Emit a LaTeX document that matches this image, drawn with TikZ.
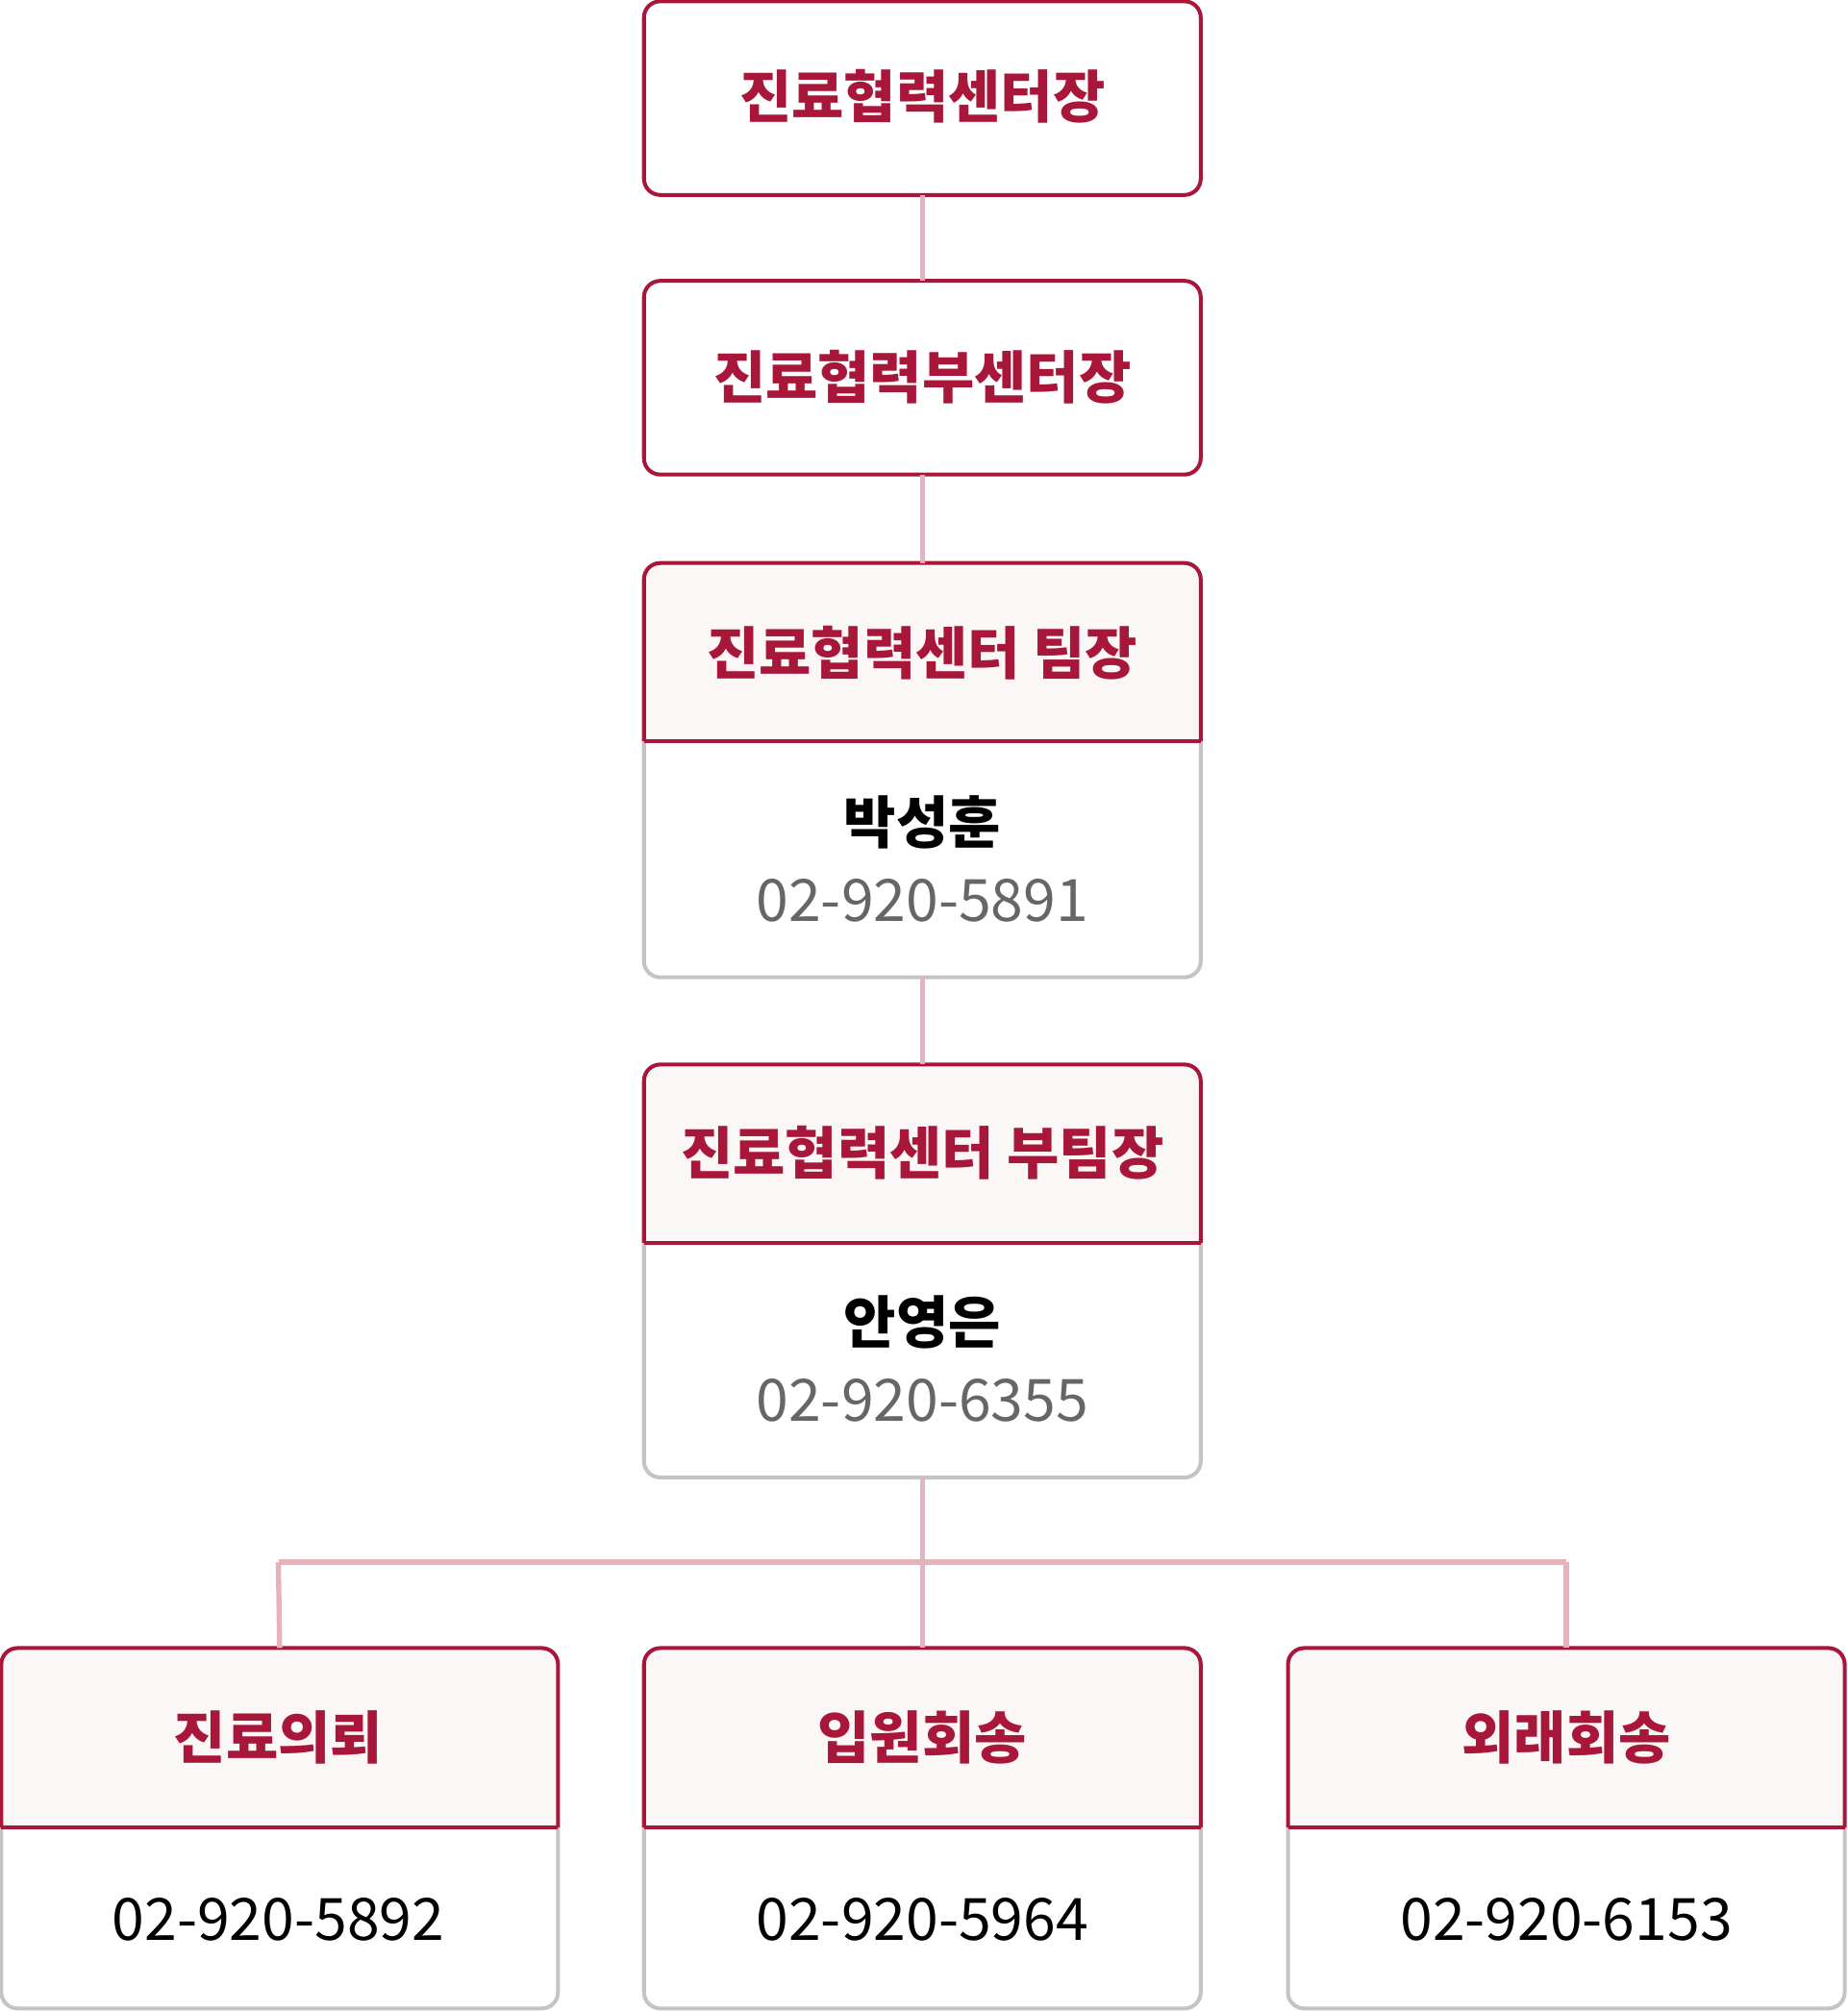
\documentclass[tikz,border=0pt]{standalone}
\usepackage{fontspec}
\newfontfamily\kr{Noto Sans CJK KR}
\definecolor{rd}{HTML}{A8173A}
\definecolor{ln}{HTML}{E6B3BB}
\definecolor{gb}{HTML}{C4C4C4}
\definecolor{pk}{HTML}{FBF7F7}
\definecolor{gt}{HTML}{666666}
\begin{document}
\begin{tikzpicture}[x=0.0139cm,y=-0.0139cm,
  ttl/.style={font=\kr\fontsize{17.5}{20}\selectfont\bfseries,text=rd},
  nm/.style={font=\kr\fontsize{17.5}{20}\selectfont\bfseries,text=black},
  ph/.style={font=\kr\fontsize{18}{20}\selectfont,text=gt},
  phb/.style={font=\kr\fontsize{18}{20}\selectfont,text=black},
  conn/.style={draw=ln,line width=1.6pt}]
\useasboundingbox (0,0) rectangle (1440,1568);
\newcommand\simplebox[4]{% name, x1, y1, y2
  \draw[rd,line width=1.2pt,fill=white,rounded corners=5] (#2,#3) rectangle (#2+434,#4);
  \coordinate (#1-t) at (#2+217,#3); \coordinate (#1-b) at (#2+217,#4);}
\newcommand\twobox[5]{% name, x1, y1, ymid, y2
  \draw[gb,line width=1.2pt,fill=white,rounded corners=5] (#2,#4) -- (#2,#5) -- (#2+434,#5) -- (#2+434,#4);
  \draw[rd,line width=1.2pt,fill=pk,rounded corners=5] (#2,#4) -- (#2,#3) -- (#2+434,#3) -- (#2+434,#4);
  \draw[rd,line width=1.2pt] (#2,#4) -- (#2+434,#4);
  \coordinate (#1-t) at (#2+217,#3); \coordinate (#1-b) at (#2+217,#5);}
% connectors
\coordinate (j) at (719,1218); \coordinate (jl) at (217,1218); \coordinate (jr) at (1221,1218);
\simplebox{a}{502}{1}{152}
\simplebox{b}{502}{219}{370}
\twobox{c}{502}{439}{578}{762}
\twobox{d}{502}{830}{969}{1152}
\twobox{e}{1}{1285}{1425}{1566}
\twobox{f}{502}{1285}{1425}{1566}
\twobox{g}{1004}{1285}{1425}{1566}
\draw[conn] (a-b) -- (b-t);
\draw[conn] (b-b) -- (c-t);
\draw[conn] (c-b) -- (d-t);
\draw[conn] (d-b) -- (f-t);
\draw[conn] (jl) -- (jr);
\draw[conn] (jl) -- (e-t);
\draw[conn] (jr) -- (g-t);
\node[ttl] (ta) at (719,75) {진료협력센터장};
\node[ttl] (tb) at (719,294) {진료협력부센터장};
\node[ttl] (tc) at (719,509) {진료협력센터 팀장};
\node[nm] (nc) at (719,641) {박성훈};
\node[ph] (pc) at (719,702) {02-920-5891};
\node[ttl] (td) at (719,899) {진료협력센터 부팀장};
\node[nm] (nd) at (719,1031) {안영은};
\node[ph] (pd) at (719,1092) {02-920-6355};
\node[ttl] (te) at (217,1355) {진료의뢰};
\node[phb] (pe) at (217,1497) {02-920-5892};
\node[ttl] (tf) at (719,1355) {입원회송};
\node[phb] (pf) at (719,1497) {02-920-5964};
\node[ttl] (tg) at (1221,1355) {외래회송};
\node[phb] (pg) at (1221,1497) {02-920-6153};
\end{tikzpicture}
\end{document}
